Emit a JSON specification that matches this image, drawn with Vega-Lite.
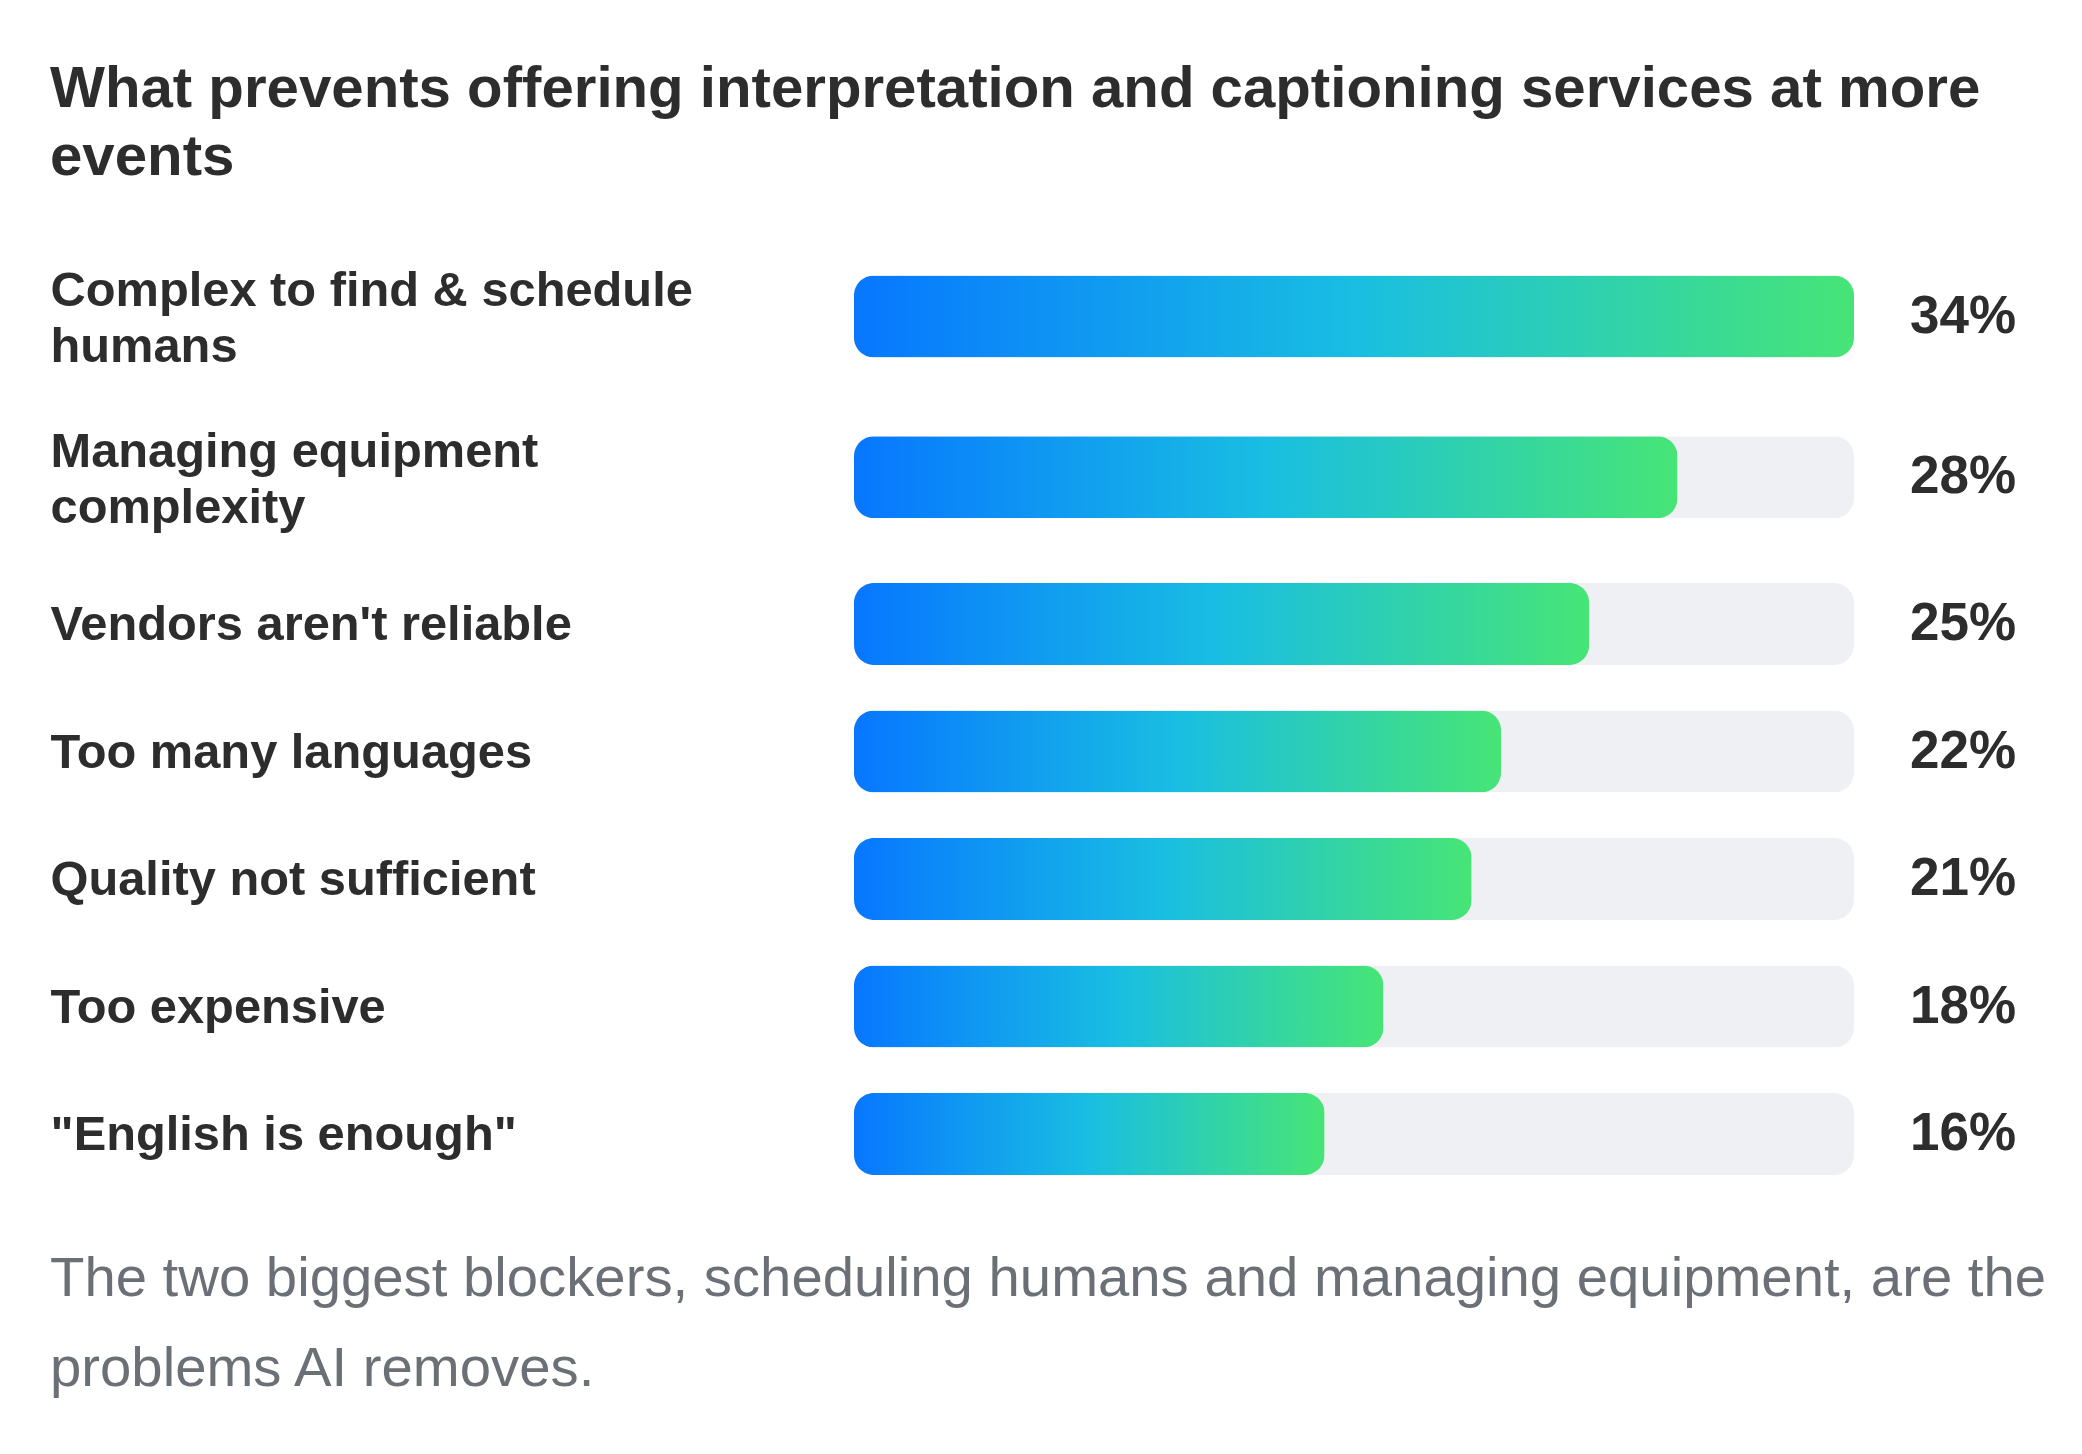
{
  "$schema": "https://vega.github.io/schema/vega-lite/v6.json",
  "background": "white",
  "padding": {"left": 50, "top": 59.3, "right": 10, "bottom": 10},
  "autosize": {"type": "pad"},
  "title": {
    "text": ["What prevents offering interpretation and captioning services at more", "events"],
    "anchor": "start",
    "frame": "bounds",
    "font": "Liberation Sans",
    "fontSize": 58.2,
    "fontWeight": "bold",
    "lineHeight": 68,
    "color": "#2d2d2d",
    "offset": 49.4,
    "limit": 2100
  },
  "data": {
    "values": [
      {"reason": "Complex to find & schedule humans", "share": 0.34},
      {"reason": "Managing equipment complexity", "share": 0.28},
      {"reason": "Vendors aren't reliable", "share": 0.25},
      {"reason": "Too many languages", "share": 0.22},
      {"reason": "Quality not sufficient", "share": 0.21},
      {"reason": "Too expensive", "share": 0.18},
      {"reason": "\"English is enough\"", "share": 0.16}
    ]
  },
  "spacing": 2,
  "vconcat": [
    {
      "width": 1000,
      "height": 321.2,
      "transform": [
        {"joinaggregate": [{"op": "max", "field": "share", "as": "maxShare"}]},
        {"filter": {"field": "reason", "oneOf": ["Complex to find & schedule humans", "Managing equipment complexity"]}}
      ],
      "encoding": {
        "y": {
          "field": "reason",
          "type": "nominal",
          "sort": null,
          "title": null,
          "scale": {"paddingInner": 0, "paddingOuter": 0},
          "axis": {
            "labelOffset": -25.5,
            "labelExpr": "datum.value == 'Complex to find & schedule humans' ? ['Complex to find & schedule', 'humans'] : datum.value == 'Managing equipment complexity' ? ['Managing equipment', 'complexity'] : datum.value"
          }
        }
      },
      "layer": [
        {
          "mark": {"type": "bar", "height": 82, "cornerRadius": 20, "color": "#eef0f4"},
          "encoding": {"x": {"field": "maxShare", "type": "quantitative", "axis": null, "scale": {"nice": false, "zero": true}}}
        },
        {
          "mark": {
            "type": "bar", "height": 82, "cornerRadius": 20,
            "color": {"gradient": "linear", "x1": 0, "y1": 0, "x2": 1, "y2": 0,
              "stops": [{"offset": 0, "color": "#0777ff"}, {"offset": 0.5, "color": "#19bee2"}, {"offset": 1, "color": "#47e576"}]}
          },
          "encoding": {"x": {"field": "share", "type": "quantitative", "axis": null}}
        },
        {
          "mark": {"type": "text", "align": "right", "baseline": "middle", "dx": 162, "font": "Liberation Sans", "fontSize": 53, "fontWeight": "bold", "color": "#2d2d2d"},
          "encoding": {
            "x": {"field": "maxShare", "type": "quantitative", "axis": null},
            "text": {"field": "share", "type": "quantitative", "format": ".0%"}
          }
        }
      ]
    },
    {
      "width": 1000,
      "height": 637.5,
      "title": {
        "text": ["The two biggest blockers, scheduling humans and managing equipment, are the", "problems AI removes."],
        "orient": "bottom",
        "anchor": "start",
        "frame": "bounds",
        "font": "Liberation Sans",
        "fontSize": 56.3,
        "fontWeight": "normal",
        "lineHeight": 90,
        "color": "#6b6f76",
        "offset": 54,
        "baseline": "top",
        "limit": 2100
      },
      "transform": [
        {"joinaggregate": [{"op": "max", "field": "share", "as": "maxShare"}]},
        {"filter": {"field": "reason", "oneOf": ["Vendors aren't reliable", "Too many languages", "Quality not sufficient", "Too expensive", "\"English is enough\""]}}
      ],
      "encoding": {
        "y": {
          "field": "reason",
          "type": "nominal",
          "sort": null,
          "title": null,
          "scale": {"paddingInner": 0, "paddingOuter": 0},
          "axis": {"labelOffset": 1}
        }
      },
      "layer": [
        {
          "mark": {"type": "bar", "height": 82, "cornerRadius": 20, "color": "#eef0f4"},
          "encoding": {"x": {"field": "maxShare", "type": "quantitative", "axis": null, "scale": {"nice": false, "zero": true}}}
        },
        {
          "mark": {
            "type": "bar", "height": 82, "cornerRadius": 20,
            "color": {"gradient": "linear", "x1": 0, "y1": 0, "x2": 1, "y2": 0,
              "stops": [{"offset": 0, "color": "#0777ff"}, {"offset": 0.5, "color": "#19bee2"}, {"offset": 1, "color": "#47e576"}]}
          },
          "encoding": {"x": {"field": "share", "type": "quantitative", "axis": null}}
        },
        {
          "mark": {"type": "text", "align": "right", "baseline": "middle", "dx": 162, "font": "Liberation Sans", "fontSize": 53, "fontWeight": "bold", "color": "#2d2d2d"},
          "encoding": {
            "x": {"field": "maxShare", "type": "quantitative", "axis": null},
            "text": {"field": "share", "type": "quantitative", "format": ".0%"}
          }
        }
      ]
    }
  ],
  "config": {
    "view": {"stroke": null},
    "axisY": {
      "domain": false,
      "ticks": false,
      "tickSize": 0,
      "grid": false,
      "labelAlign": "left",
      "labelBaseline": "middle",
      "labelPadding": 804,
      "labelFont": "Liberation Sans",
      "labelFontSize": 48.8,
      "labelFontWeight": "bold",
      "labelColor": "#2d2d2d",
      "labelLineHeight": 56,
      "labelLimit": 1200,
      "labelOverlap": false,
      "labelBound": false
    }
  }
}
